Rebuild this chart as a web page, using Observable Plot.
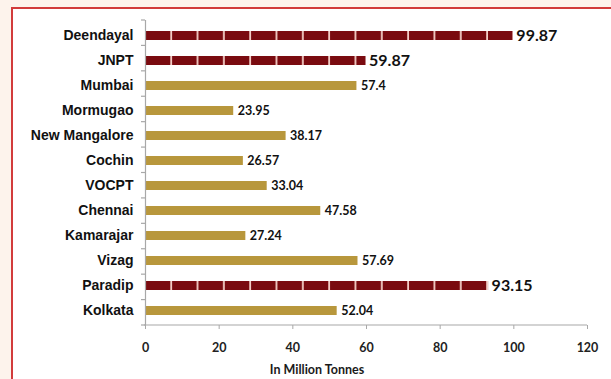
<!DOCTYPE html>
<html>
<head>
<meta charset="utf-8">
<script src="https://cdn.jsdelivr.net/npm/d3@7"></script>
<script src="https://cdn.jsdelivr.net/npm/@observablehq/plot@0.6"></script>
<style>
  html, body { margin: 0; padding: 0; background: #fdf3ec; width: 611px; height: 379px; overflow: hidden; }
  #frame { position: absolute; left: 11px; top: 7px; width: 640px; height: 420px; background: #ffffff;
           border-top: 2px solid #d23b3b; border-left: 2px solid #d23b3b; z-index: 0; }
  #chart { position: absolute; left: 0; top: 0; z-index: 1; }
  #chart svg { background: transparent !important; }
  #xtitle { position: absolute; top: 362px; left: 217px; width: 200px; text-align: center; z-index: 2;
            font: bold 12.5px Lato, "Open Sans", sans-serif; color: #1a1a1a; }
</style>
</head>
<body>
<div id="frame"></div>
<div id="chart"></div>
<div id="xtitle">In Million Tonnes</div>
<script>
const ports = ["Deendayal", "JNPT", "Mumbai", "Mormugao", "New Mangalore", "Cochin", "VOCPT", "Chennai", "Kamarajar", "Vizag", "Paradip", "Kolkata"];
const values = [99.87, 59.87, 57.4, 23.95, 38.17, 26.57, 33.04, 47.58, 27.24, 57.69, 93.15, 52.04];
const highlighted = ["Deendayal", "JNPT", "Paradip"];
const xTicks = [0, 20, 40, 60, 80, 100, 120];

const gold = "#b8973c";
const darkRed = "#7a0b10";
const axisGray = "#a8a8a8";

const data = ports.map((p, i) => ({port: p, value: values[i], hi: highlighted.includes(p)}));
const hiData = data.filter(d => d.hi);
const loData = data.filter(d => !d.hi);

const chart = Plot.plot({
  width: 611,
  height: 379,
  marginLeft: 145,
  marginRight: 24,
  marginTop: 20,
  marginBottom: 54,
  style: {background: "transparent", fontFamily: "Lato, 'Open Sans', sans-serif", color: "#1a1a1a"},
  x: {domain: [0, 120], ticks: xTicks, label: null},
  y: {domain: ports, paddingInner: 0.64, paddingOuter: 0.32, label: null},
  marks: [
    Plot.barX(loData, {x: "value", y: "port", fill: gold}),
    Plot.barX(hiData, {x: "value", y: "port", fill: "url(#dashfill)"}),
    Plot.ruleX([0], {stroke: axisGray, strokeWidth: 1.2}),
    Plot.axisY({tickSize: 0, tickPadding: 12, fontSize: 14, fontWeight: "bold", label: null,
                fontFamily: "'Liberation Sans', Arial, sans-serif", fill: "#111"}),
    Plot.axisX({ticks: xTicks, tickSize: 4, tickPadding: 14, fontSize: 12.5, fontWeight: "bold",
                stroke: axisGray, fill: "#222", label: null}),
    Plot.text(loData, {x: "value", y: "port", text: d => String(d.value), textAnchor: "start", dx: 4,
                       fontSize: 12.5, fontWeight: "bold", fill: "#111"}),
    Plot.text(hiData, {x: "value", y: "port", text: d => String(d.value), textAnchor: "start", dx: 3,
                       fontSize: 16, fontWeight: "bold", fill: "#111"})
  ]
});

chart.style.background = "transparent";
document.getElementById("chart").appendChild(chart);

// Pattern for the dashed dark-red bars and Excel-style axis decorations, derived from the scales
const svg = d3.select(chart);
const xs = chart.scale("x");
const ys = chart.scale("y");
const x0 = xs.apply(0);
const segW = (xs.apply(20) - x0) * (26.3 / 73.6);
const defs = svg.insert("defs", ":first-child");
const pat = defs.append("pattern")
  .attr("id", "dashfill")
  .attr("patternUnits", "userSpaceOnUse")
  .attr("x", x0 + 0.8)
  .attr("y", 0)
  .attr("width", segW)
  .attr("height", 400);
pat.append("rect").attr("width", segW).attr("height", 400).attr("fill", darkRed);
pat.append("rect").attr("x", segW - 1.8).attr("width", 1.8).attr("height", 400).attr("fill", "#f4cfc8");

// bottom axis line and category-boundary ticks
const [r0, r1] = ys.range;
const step = (r1 - r0) / ports.length;
const g = svg.append("g").attr("stroke", axisGray).attr("stroke-width", 1.2);
g.append("line").attr("x1", x0 - 1).attr("x2", xs.apply(120)).attr("y1", r1).attr("y2", r1);
for (let i = 0; i <= ports.length; i++) {
  const yy = r0 + i * step;
  g.append("line").attr("x1", x0 - 4).attr("x2", x0).attr("y1", yy).attr("y2", yy);
}
</script>
</body>
</html>
